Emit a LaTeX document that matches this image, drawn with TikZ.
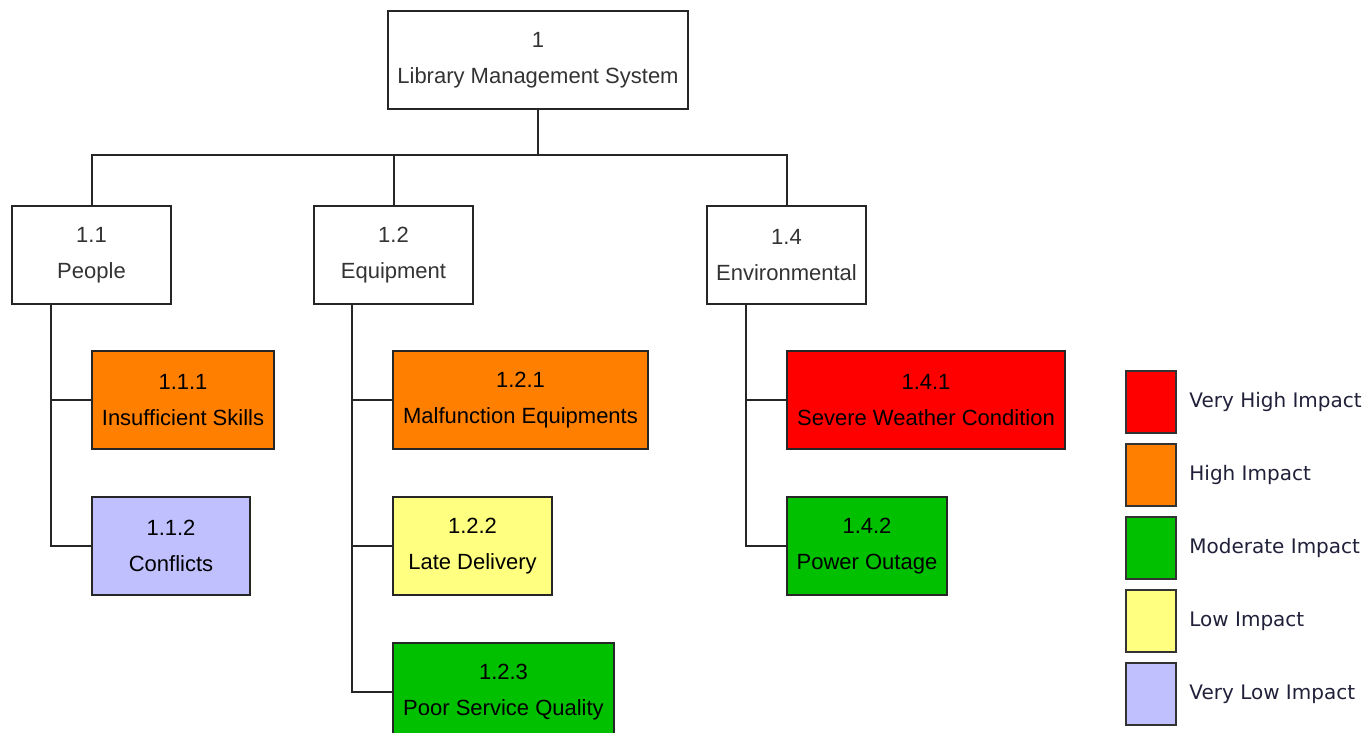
\documentclass[tikz,border=0pt]{standalone}
\usepackage{fontspec}
\setmainfont{Liberation Sans}
\newfontfamily\legendfont{DejaVu Sans}
\usetikzlibrary{positioning,calc}
\definecolor{vhigh}{HTML}{FF0000}
\definecolor{high}{HTML}{FF8000}
\definecolor{moderate}{HTML}{00C000}
\definecolor{low}{HTML}{FFFF80}
\definecolor{vlow}{HTML}{C0C0FF}
\definecolor{keyink}{HTML}{20203A}
\tikzset{
  wbs/.style={
    rectangle,
    draw=black!85, line width=1pt,
    minimum height=49pt,
    align=center,
    font=\fontsize{11}{18}\selectfont,
    anchor=north west},
  branch/.style={wbs, fill=white, text=black!80, minimum width=#1},
  risk/.style 2 args={wbs, fill=#2, text=black, minimum width=#1},
  line/.style={draw=black!85, line width=1pt},
  keybox/.style={
    rectangle,
    draw=black!80, line width=1pt,
    minimum width=25pt,
    minimum height=31pt,
    anchor=north west},
  keytext/.style={inner xsep=0pt, text=keyink,
    font=\legendfont\fontsize{10}{12}\selectfont},
}

\begin{document}
\begin{tikzpicture}[x=0.5pt,y=-0.5pt]

    \useasboundingbox (0,0) rectangle (1372,733);

    % top levels
    \node[branch=150pt] (lms) at (387,10) {1\\Library Management System};
    \node[branch=79.5pt] (people) at (11,205) {1.1\\People};
    \node[branch=79.5pt] (equip) at (313,205) {1.2\\Equipment};
    \node[branch=79.5pt] (env) at (706,205) {1.4\\Environmental};

    % risks
    \node[risk={91pt}{high}] (skills) at (91,350) {1.1.1\\Insufficient Skills};
    \node[risk={79pt}{vlow}] (conflicts) at (91,496) {1.1.2\\Conflicts};
    \node[risk={127.5pt}{high}] (malfunction) at (392,350) {1.2.1\\Malfunction Equipments};
    \node[risk={79.5pt}{low}] (delivery) at (392,496) {1.2.2\\Late Delivery};
    \node[risk={110.5pt}{moderate}] (quality) at (392,642) {1.2.3\\Poor Service Quality};
    \node[risk={139pt}{vhigh}] (weather) at (786,350) {1.4.1\\Severe Weather Condition};
    \node[risk={80pt}{moderate}] (outage) at (786,496) {1.4.2\\Power Outage};

    \coordinate (bus) at ($(lms.south)+(0,45)$);
    \draw[line] (lms.south) -- (bus);
    \draw[line] (people.north) |- (bus) -| (env.north);
    \draw[line] (equip.north) -- (equip.north |- bus);

    \draw[line] ([xshift=20pt]people.south west) |- (skills.west);
    \draw[line] ([xshift=20pt]people.south west) |- (conflicts.west);
    \draw[line] ([xshift=19.5pt]equip.south west) |- (malfunction.west);
    \draw[line] ([xshift=19.5pt]equip.south west) |- (delivery.west);
    \draw[line] ([xshift=19.5pt]equip.south west) |- (quality.west);
    \draw[line] ([xshift=20pt]env.south west) |- (weather.west);
    \draw[line] ([xshift=20pt]env.south west) |- (outage.west);

    % legend
    \foreach \c/\t [count=\i] in {vhigh/Very High Impact, high/High Impact,
        moderate/Moderate Impact, low/Low Impact, vlow/Very Low Impact} {
      \node[keybox, fill=\c] (key\i) at (1125,{370+73*(\i-1)}) {};
      \node[keytext, right=6pt of key\i] {\t};
    }
  \end{tikzpicture}
\end{document}
